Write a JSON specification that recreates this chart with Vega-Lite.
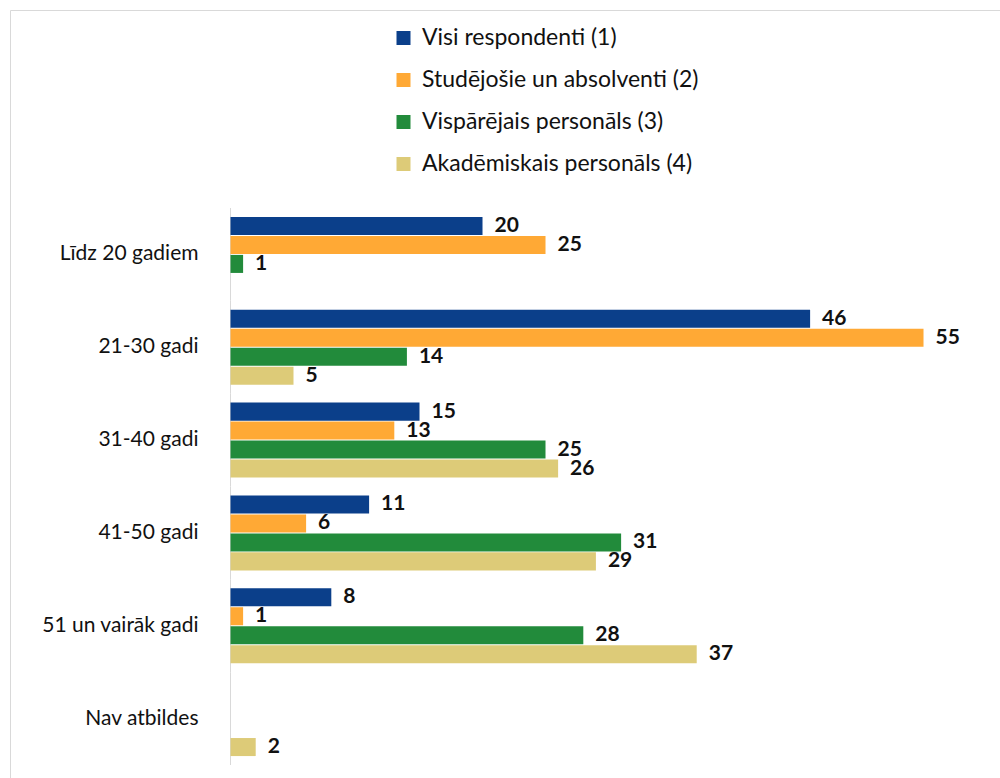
{
  "$schema": "https://vega.github.io/schema/vega-lite/v6.json",
  "width": 990,
  "height": 768,
  "autosize": {"type": "none"},
  "padding": {"left": 10, "top": 10, "right": 0, "bottom": 0},
  "background": "white",
  "config": {
    "view": {"stroke": "#d9d9d9", "strokeWidth": 1},
    "font": "Lato"
  },
  "datasets": {
    "bars": [
      {"age": "Līdz 20 gadiem", "group": "Visi respondenti (1)", "value": 20},
      {"age": "Līdz 20 gadiem", "group": "Studējošie un absolventi (2)", "value": 25},
      {"age": "Līdz 20 gadiem", "group": "Vispārējais personāls (3)", "value": 1},
      {"age": "21-30 gadi", "group": "Visi respondenti (1)", "value": 46},
      {"age": "21-30 gadi", "group": "Studējošie un absolventi (2)", "value": 55},
      {"age": "21-30 gadi", "group": "Vispārējais personāls (3)", "value": 14},
      {"age": "21-30 gadi", "group": "Akadēmiskais personāls (4)", "value": 5},
      {"age": "31-40 gadi", "group": "Visi respondenti (1)", "value": 15},
      {"age": "31-40 gadi", "group": "Studējošie un absolventi (2)", "value": 13},
      {"age": "31-40 gadi", "group": "Vispārējais personāls (3)", "value": 25},
      {"age": "31-40 gadi", "group": "Akadēmiskais personāls (4)", "value": 26},
      {"age": "41-50 gadi", "group": "Visi respondenti (1)", "value": 11},
      {"age": "41-50 gadi", "group": "Studējošie un absolventi (2)", "value": 6},
      {"age": "41-50 gadi", "group": "Vispārējais personāls (3)", "value": 31},
      {"age": "41-50 gadi", "group": "Akadēmiskais personāls (4)", "value": 29},
      {"age": "51 un vairāk gadi", "group": "Visi respondenti (1)", "value": 8},
      {"age": "51 un vairāk gadi", "group": "Studējošie un absolventi (2)", "value": 1},
      {"age": "51 un vairāk gadi", "group": "Vispārējais personāls (3)", "value": 28},
      {"age": "51 un vairāk gadi", "group": "Akadēmiskais personāls (4)", "value": 37},
      {"age": "Nav atbildes", "group": "Akadēmiskais personāls (4)", "value": 2}
    ],
    "cats": [
      {"age": "Līdz 20 gadiem"},
      {"age": "21-30 gadi"},
      {"age": "31-40 gadi"},
      {"age": "41-50 gadi"},
      {"age": "51 un vairāk gadi"},
      {"age": "Nav atbildes"}
    ]
  },
  "encoding": {
    "y": {
      "field": "age",
      "type": "nominal",
      "sort": null,
      "title": null,
      "scale": {
        "domain": ["_a", "_b", "Līdz 20 gadiem", "21-30 gadi", "31-40 gadi", "41-50 gadi", "51 un vairāk gadi", "Nav atbildes"],
        "paddingInner": 0,
        "paddingOuter": 0.1366,
        "align": 0.487
      },
      "axis": {
        "orient": "left",
        "offset": -220,
        "domain": false,
        "ticks": false,
        "grid": false,
        "labelPadding": 32,
        "labelFont": "Lato",
        "labelFontSize": 21,
        "labelColor": "#111111",
        "labelLimit": 300,
        "labelExpr": "indexof(datum.value, '_') == 0 ? '' : datum.label"
      }
    }
  },
  "layer": [
    {
      "data": {"name": "cats"},
      "mark": {"type": "bar", "color": "#d9d9d9"},
      "encoding": {
        "x": {"datum": -0.04, "type": "quantitative", "scale": {"domain": [-17.5, 61.07], "nice": false, "zero": false}, "axis": null},
        "x2": {"datum": 0.04}
      }
    },
    {
      "data": {"name": "bars"},
      "mark": {"type": "bar"},
      "encoding": {
        "x": {"field": "value", "type": "quantitative", "scale": {"domain": [-17.5, 61.07], "nice": false, "zero": false}, "axis": null},
        "x2": {"datum": 0},
        "yOffset": {
          "field": "group",
          "type": "nominal",
          "scale": {
            "domain": ["Visi respondenti (1)", "Studējošie un absolventi (2)", "Vispārējais personāls (3)", "Akadēmiskais personāls (4)"],
            "paddingInner": 0.05,
            "paddingOuter": 0.47
          }
        },
        "color": {
          "field": "group",
          "type": "nominal",
          "scale": {
            "domain": ["Visi respondenti (1)", "Studējošie un absolventi (2)", "Vispārējais personāls (3)", "Akadēmiskais personāls (4)"],
            "range": ["#0b3f8a", "#ffa935", "#228b3b", "#ddcb78"]
          },
          "legend": {
            "title": null,
            "orient": "none",
            "legendX": 382,
            "legendY": 16.5,
            "direction": "vertical",
            "symbolType": "square",
            "symbolSize": 196,
            "symbolStrokeWidth": 0,
            "labelFont": "Lato",
            "labelFontSize": 23,
            "labelColor": "#111111",
            "labelOffset": 7,
            "rowPadding": 18,
            "padding": 0,
            "labelLimit": 400
          }
        }
      }
    },
    {
      "data": {"name": "bars"},
      "mark": {"type": "text", "align": "left", "baseline": "middle", "dx": 12, "font": "Lato", "fontSize": 21, "fontWeight": "bold", "color": "#111111"},
      "encoding": {
        "x": {"field": "value", "type": "quantitative", "scale": {"domain": [-17.5, 61.07], "nice": false, "zero": false}, "axis": null},
        "yOffset": {
          "field": "group",
          "type": "nominal",
          "scale": {
            "domain": ["Visi respondenti (1)", "Studējošie un absolventi (2)", "Vispārējais personāls (3)", "Akadēmiskais personāls (4)"],
            "paddingInner": 0.05,
            "paddingOuter": 0.47
          }
        },
        "text": {"field": "value", "type": "quantitative"}
      }
    }
  ]
}
